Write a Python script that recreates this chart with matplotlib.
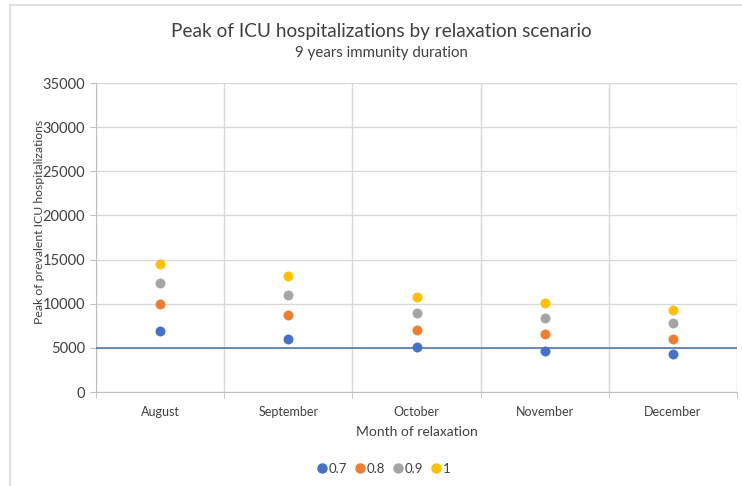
import matplotlib
matplotlib.use("Agg")
import matplotlib.pyplot as plt
from matplotlib.lines import Line2D

months = ["August", "September", "October", "November", "December"]
series_names = ["0.7", "0.8", "0.9", "1"]
vals_07 = [6950, 6050, 5150, 4650, 4250]
vals_08 = [9950, 8700, 7050, 6550, 6050]
vals_09 = [12300, 11000, 8900, 8350, 7800]
vals_10 = [14500, 13150, 10750, 10100, 9300]
colors = ["#4472C4", "#ED7D31", "#A5A5A5", "#FFC000"]
yticks = list(range(0, 35001, 5000))
ref_value = 5000

plt.rcParams['font.family'] = ['Lato', 'DejaVu Sans']

W, H = 742, 486
fig = plt.figure(figsize=(W/100, H/100), dpi=100)

# chart border (top and left visible)
fig.add_artist(Line2D([10/W, 10/W], [0, 1 - 5/H], color="#d9d9d9", lw=1.2))
fig.add_artist(Line2D([10/W, 1], [1 - 5/H, 1 - 5/H], color="#d9d9d9", lw=1.2))

l, r, b, t = 96/W, 737/W, (H-392)/H, (H-83)/H
ax = fig.add_axes([l, b, r-l, t-b])

xs = list(range(len(months)))
for vals, c, name in zip([vals_07, vals_08, vals_09, vals_10], colors, series_names):
    ax.scatter(xs, vals, s=44, color=c, zorder=4, label=name, edgecolors=c, linewidths=0.5)

ax.axhline(ref_value, color="#4a6fa5", lw=1.1, zorder=3)

ax.set_xlim(-0.5, len(months) - 0.5)
ax.set_ylim(0, 35000)
ax.set_yticks(yticks)
ax.set_yticklabels([str(v) for v in yticks], fontsize=10.5, color="#404040")
ax.set_xticks(xs)
ax.set_xticklabels(months, fontsize=9, color="#404040")
ax.set_xticks([i - 0.5 for i in range(len(months) + 1)], minor=True)
ax.tick_params(axis='x', which='major', length=0, pad=10)
ax.tick_params(axis='x', which='minor', length=4, color="#bfbfbf", direction='out')
ax.tick_params(axis='y', which='major', length=4, color="#bfbfbf", direction='out', pad=4)

ax.grid(True, axis='y', which='major', color="#d9d9d9", lw=1)
ax.grid(True, axis='x', which='minor', color="#d9d9d9", lw=1)
ax.set_axisbelow(True)
for side in ["top", "right"]:
    ax.spines[side].set_visible(False)
ax.spines["left"].set_color("#bfbfbf")
ax.spines["bottom"].set_color("#bfbfbf")

ax.set_ylabel("Peak of prevalent ICU hospitalizations", fontsize=8.8, color="#404040")
ax.yaxis.set_label_coords((45 - 96) / 641, (392 - 222) / 309)
ax.set_xlabel("Month of relaxation", fontsize=10, color="#404040", labelpad=6)

fig.text(381/W, 1 - 31/H, "Peak of ICU hospitalizations by relaxation scenario",
         ha="center", va="center", fontsize=13.7, color="#404040")
fig.text(381/W, 1 - 53/H, "9 years immunity duration",
         ha="center", va="center", fontsize=10.8, color="#404040")

handles = [Line2D([], [], marker='o', ls='', color=c, markersize=6.5) for c in colors]
fig.legend(handles, series_names, loc="center", bbox_to_anchor=(383/W, 1 - 469/H),
           ncol=4, frameon=False, fontsize=9.5, handletextpad=0.0, columnspacing=0.5,
           handlelength=1.0, labelcolor="#404040")

fig.savefig("out.png", dpi=100)
